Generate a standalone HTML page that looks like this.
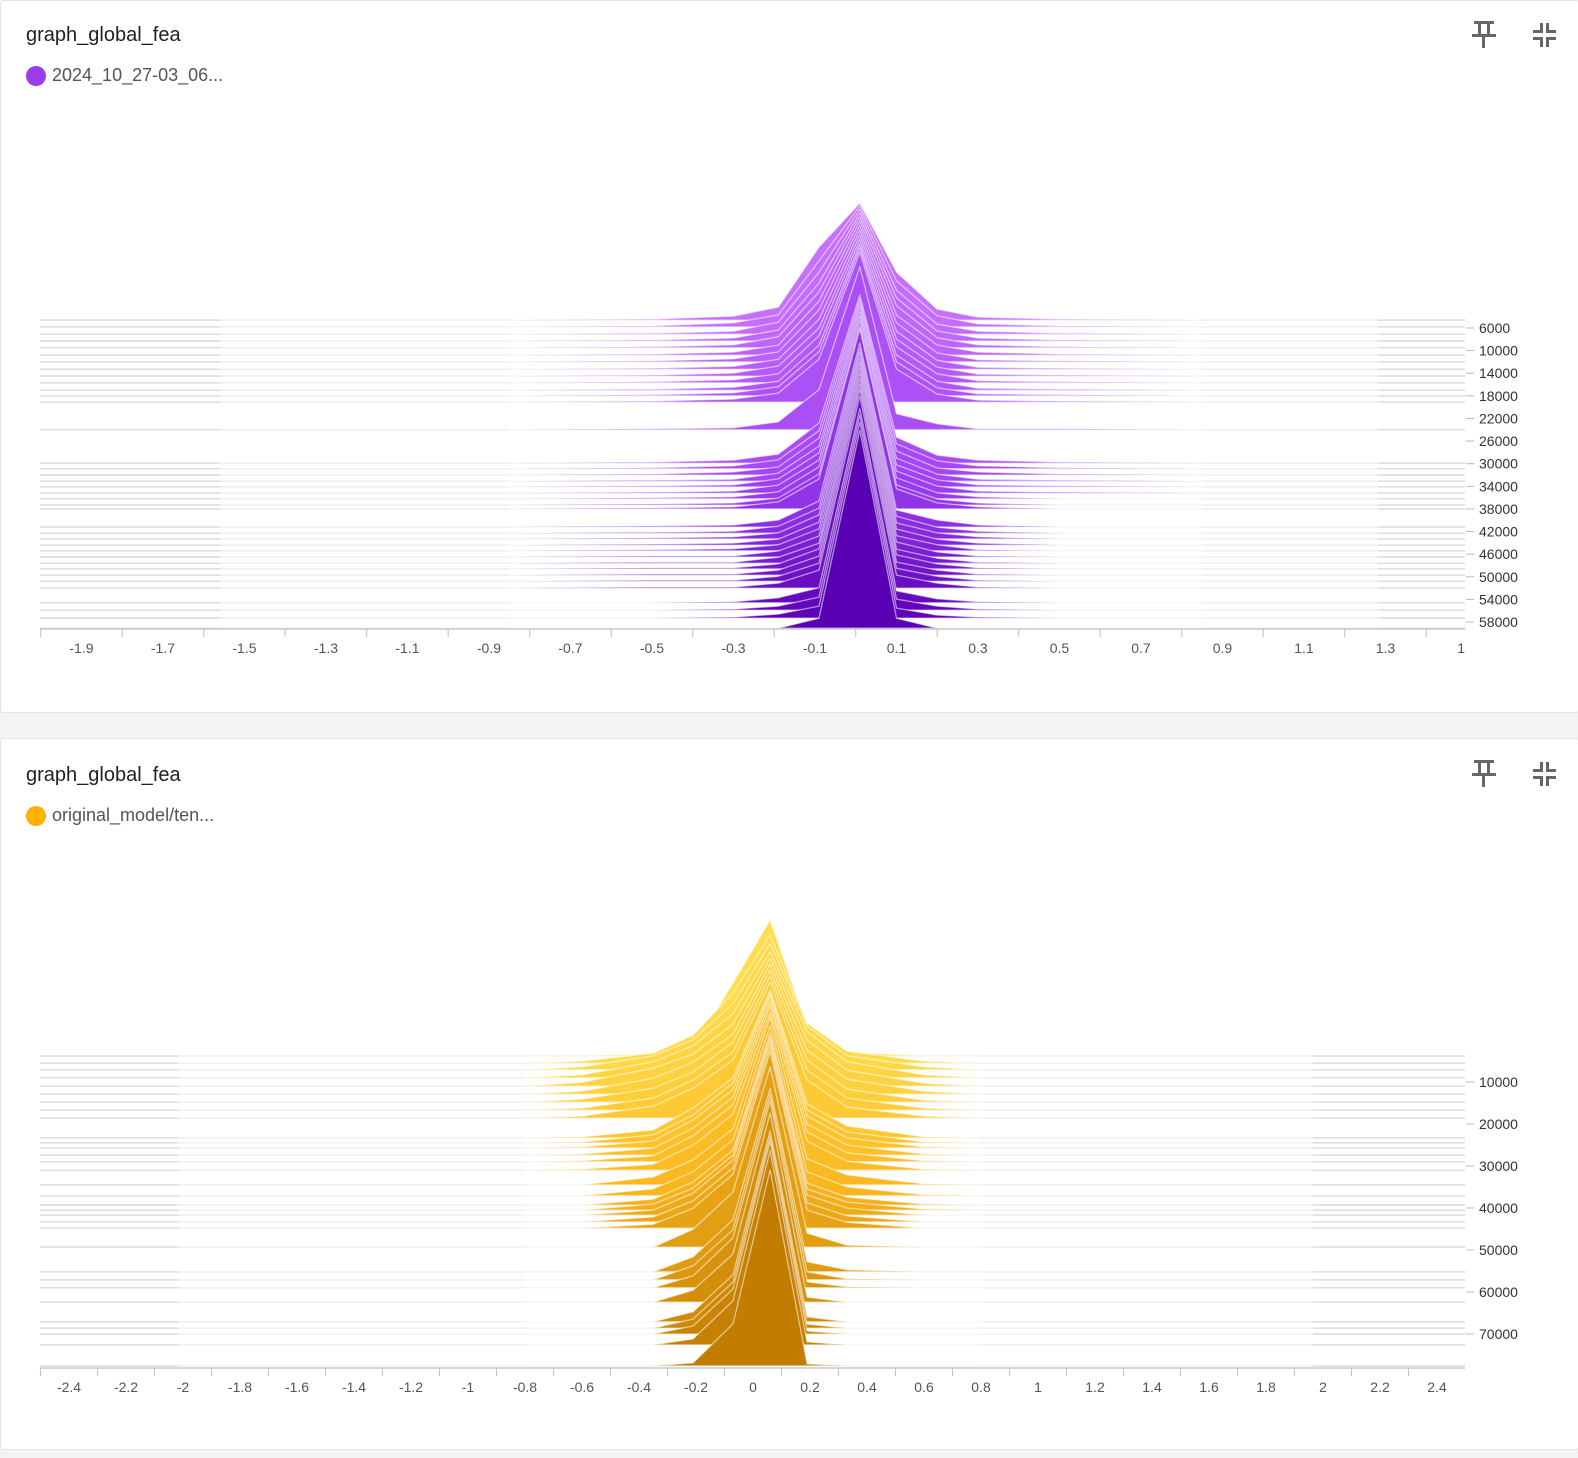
<!DOCTYPE html>
<html><head><meta charset="utf-8">
<style>
html,body{margin:0;padding:0;background:#f3f4f6;width:1578px;height:1458px;overflow:hidden;font-family:"Liberation Sans",sans-serif}
.card{position:absolute;left:0;width:1580px;background:#fff;border:1px solid #e3e3e3;border-radius:4px;box-sizing:border-box}
.title{position:absolute;left:25px;font-size:20px;color:#212121}
.leg{position:absolute;left:25px;font-size:18px;color:#555;display:flex;align-items:center}
.dot{width:20px;height:20px;border-radius:50%;margin-right:6px}
svg.chart{position:absolute;left:0;top:0}
</style></head><body>
<div class="card" style="top:0;height:713px">
  <div class="title" style="top:23px">graph_global_fea</div>
  <div class="leg" style="top:64px"><span class="dot" style="background:#9c3be8"></span>2024_10_27-03_06...</div>
</div>
<div class="card" style="top:738px;height:712px">
  <div class="title" style="top:25px">graph_global_fea</div>
  <div class="leg" style="top:66px"><span class="dot" style="background:#ffb000"></span>original_model/ten...</div>
</div>
<svg class="chart" id="svg" width="1578" height="1458">
  <defs><clipPath id="clipA"><rect x="0" y="0" width="1466" height="1458"/></clipPath></defs>
  <g fill="#666"><rect x="1474" y="21" width="20" height="3"/><rect x="1478" y="23" width="3" height="13"/><rect x="1487" y="23" width="3" height="13"/><rect x="1472" y="34" width="24" height="3"/><rect x="1482" y="36" width="3" height="12"/></g>
  <g fill="#666"><path d="M1533 30h7v-7h3v10h-10zM1546 23h3v7h7v3h-10zM1533 37h10v10h-3v-7h-7zM1546 37h10v3h-7v7h-3z"/></g>
  <g fill="#666" transform="translate(0,739)"><rect x="1474" y="21" width="20" height="3"/><rect x="1478" y="23" width="3" height="13"/><rect x="1487" y="23" width="3" height="13"/><rect x="1472" y="34" width="24" height="3"/><rect x="1482" y="36" width="3" height="12"/></g>
  <g fill="#666" transform="translate(0,739)"><path d="M1533 30h7v-7h3v10h-10zM1546 23h3v7h7v3h-10zM1533 37h10v10h-3v-7h-7zM1546 37h10v3h-7v7h-3z"/></g>
</svg>
<script>
// ---- Chart A data ----
const stepsA=[4600,5800,7100,8300,9500,10800,12000,13300,14500,15700,17000,18000,19100,24000,29900,30900,32000,33100,34100,35200,36200,37300,38000,41200,42300,43300,44400,45400,46500,47600,48600,49700,50800,52000,54600,55900,57300,59100];
const binsA=[-0.5,-0.3,-0.19,-0.09,0.01,0.1,0.2,0.3,0.5];
const countsA=[
[1,4,13,73,117,48,11,3,1],[1,4,12,66,121,46,11,3,1],[1,3,12,62,125,44,10,3,1],[1,3,11,58,128,43,10,3,1],
[1,3,11,56,131,42,10,3,1],[1,3,10,54,134,40,10,3,1],[1,3,10,52,136,39,9,2,1],[1,3,10,50,139,38,9,2,1],
[1,3,10,48,141,37,9,2,1],[1,3,9,47,143,36,9,2,1],[1,3,9,45,146,35,9,2,1],[1,3,9,44,148,34,8,2,1],
[1,3,9,43,150,33,8,2,1],[1,2,8,40,163,16,6,1,1],
[1,3,9,40,168,26,8,3,1],[1,3,9,38,170,25,8,3,1],[1,3,8,37,172,24,7,3,1],[1,2,8,35,174,23,7,2,1],
[1,2,8,34,175,22,7,2,1],[1,2,8,33,177,22,7,2,1],[1,2,7,32,178,21,6,2,0],[1,2,7,31,179,20,6,2,0],[1,2,7,30,180,20,6,2,0],
[1,2,7,26,184,17,7,2,0],[1,2,7,25,185,17,6,2,0],[1,2,6,24,186,16,6,2,0],[1,2,6,23,187,16,6,2,0],
[1,2,6,22,188,15,6,1,0],[1,1,6,21,189,15,5,1,0],[1,1,6,20,190,14,5,1,0],[1,1,5,20,190,14,5,1,0],
[1,1,5,19,191,13,5,1,0],[1,1,5,18,192,13,5,1,0],[1,1,5,18,192,13,5,1,0],
[0,1,5,15,194,12,4,1,0],[0,1,4,13,195,11,4,1,0],[0,1,4,12,196,10,3,1,0],[0,0,0,10,198,10,0,0,0]];
const xTickLabelsA=[-1.9,-1.7,-1.5,-1.3,-1.1,-0.9,-0.7,-0.5,-0.3,-0.1,0.1,0.3,0.5,0.7,0.9,1.1,1.3,1.5];
const yTickLabelsA=[6000,10000,14000,18000,22000,26000,30000,34000,38000,42000,46000,50000,54000,58000];
// ---- Chart B data ----
const stepsB=[3800,5500,7100,9000,11000,12900,14800,16700,18600,23300,24500,25700,27400,29000,31000,34500,37100,39300,40500,41700,43300,44800,49300,55200,57100,59000,62400,67100,68600,70000,72600,77600];
const binsB=[-0.6,-0.35,-0.21,-0.07,0.06,0.19,0.33,0.6];
const countsB=[
[0,2,8,73,136,30,4,0],[2,10,28,70,128,40,12,2],[3,14,30,66,126,44,14,3],[3,16,32,64,126,46,16,3],
[4,18,32,62,128,46,16,3],[3,16,32,60,130,44,15,3],[3,14,30,60,132,42,13,2],[2,12,30,58,134,40,12,2],[2,12,30,58,136,38,11,2],
[1,8,30,60,148,34,12,1],[1,8,28,60,150,33,11,1],[1,7,28,58,152,32,10,1],[1,7,27,58,154,31,10,1],[1,6,26,57,156,30,9,1],[1,6,25,56,158,29,9,1],
[0,8,25,56,168,26,10,1],[0,7,24,56,170,24,9,1],[0,6,23,55,172,22,8,1],[0,6,22,55,173,21,8,1],[0,5,22,55,174,20,7,0],[0,5,21,54,176,19,6,0],[0,4,20,54,177,18,6,0],
[0,0,18,55,180,14,2,0],[0,0,15,52,183,10,2,0],[0,0,14,50,185,8,1,0],[0,0,12,50,187,6,1,0],[0,0,12,48,189,5,0,0],[0,0,10,47,191,5,0,0],[0,0,9,46,192,4,0,0],[0,0,8,45,193,3,0,0],[0,0,6,44,194,3,0,0],[0,0,3,42,196,2,0,0]];
const xTickLabelsB=[-2.4,-2.2,-2,-1.8,-1.6,-1.4,-1.2,-1,-0.8,-0.6,-0.4,-0.2,0,0.2,0.4,0.6,0.8,1,1.2,1.4,1.6,1.8,2,2.2,2.4];
const yTickLabelsB=[10000,20000,30000,40000,50000,60000,70000];

const NS='http://www.w3.org/2000/svg';
const svg=document.getElementById('svg');
function mk(tag,attrs,parent){const e=document.createElementNS(NS,tag);for(const k in attrs)e.setAttribute(k,attrs[k]);(parent||svg).appendChild(e);return e;}
function hex(c){return [parseInt(c.slice(1,3),16),parseInt(c.slice(3,5),16),parseInt(c.slice(5,7),16)];}
function lerpCol(stops,t){const n=stops.length-1;let i=Math.min(n-1,Math.floor(t*n));const f=t*n-i;const a=hex(stops[i]),b=hex(stops[i+1]);return 'rgb('+a.map((v,k)=>Math.round(v+(b[k]-v)*f)).join(',')+')';}

function drawChart(cfg){
  const g=mk('g',{});
  
  
  const n=cfg.steps.length;
  cfg.steps.forEach(s=>{
    const y=cfg.y(s);
    const l=mk('line',{x1:40,x2:1465,y1:y,y2:y,stroke:'#efefef','stroke-width':1.5},g);
    
    
    [[40,cfg.endL],[cfg.endR,1465]].forEach(p=>{
      const e=mk('line',{x1:p[0],x2:p[1],y1:y,y2:y,stroke:'#dedede','stroke-width':1.5},g);
      
      
    });
  });
  cfg.steps.forEach((s,i)=>{
    const base=cfg.y(s);const c=cfg.counts[i];
    const xl=cfg.x(cfg.bins[0]-cfg.tail),xr=cfg.x(cfg.bins[cfg.bins.length-1]+cfg.tail);
    let pts=[[xl,base]];
    cfg.bins.forEach((b,k)=>pts.push([cfg.x(b),base-c[k]*cfg.h]));
    pts.push([xr,base]);
    const d='M'+pts.map(p=>p[0].toFixed(1)+','+p[1].toFixed(1)).join('L')+'Z';
    const col=lerpCol(cfg.colors,n>1?i/(n-1):0);
    const p=mk('path',{d:d,fill:col,stroke:'rgba(255,255,255,0.55)','stroke-width':1.3,'stroke-linejoin':'round'},g);
    
    
  });
  const ax=mk('g',{},g);
  
  
  mk('line',{x1:40,x2:1465,y1:cfg.axisY,y2:cfg.axisY,stroke:'#c8c8c8','stroke-width':1.5},ax);
  cfg.xTicks.forEach(v=>{
    const t=mk('line',{x1:cfg.x(v),x2:cfg.x(v),y1:cfg.axisY,y2:cfg.axisY+8,stroke:'#c8c8c8','stroke-width':1.2},ax);
    
    
  });
  const lg=mk('g',{'clip-path':'url(#clipA)'},ax);
  cfg.xLabels.forEach(v=>{
    const t=mk('text',{x:cfg.x(v),y:cfg.axisY+24,'text-anchor':'middle','font-size':14,fill:'#555','font-family':'Liberation Sans, sans-serif'},lg);
    t.textContent=String(v);
    
    
  });
  const ay=mk('g',{},g);
  
  
  cfg.yLabels.forEach(v=>{
    const y=cfg.y(v);
    mk('line',{x1:1466,x2:1474,y1:y,y2:y,stroke:'#bbb','stroke-width':1},ay);
    const t=mk('text',{x:1479,y:y+5,'font-size':14,fill:'#333','font-family':'Liberation Sans, sans-serif'},ay);
    t.textContent=String(v);
    
    
  });
}
const xTicksA=[];for(let k=-10;k<=7;k++)xTicksA.push(k*0.2);
const xTicksB=[];for(let k=-12;k<=12;k++)xTicksB.push(k*0.2-0.1);
drawChart({name:'histogram-chart-1',steps:stepsA,bins:binsA,counts:countsA,tail:0.35,h:1,
  x:v=>855.7+v*407.5,y:s=>328+(s-6000)*0.005654,axisY:629,endL:220,endR:1378,
  colors:['#c670ff','#9e40f2','#5a00b4'],xTicks:xTicksA,xLabels:xTickLabelsA,yLabels:yTickLabelsA});
drawChart({name:'histogram-chart-2',steps:stepsB,bins:binsB,counts:countsB,tail:0.2,h:1,
  x:v=>753+v*285,y:s=>1082+(s-10000)*0.0042,axisY:1368,endL:178,endR:1313,
  colors:['#ffdd4c','#fbb820','#c27c00'],xTicks:xTicksB,xLabels:xTickLabelsB,yLabels:yTickLabelsB});
</script>
</body></html>
